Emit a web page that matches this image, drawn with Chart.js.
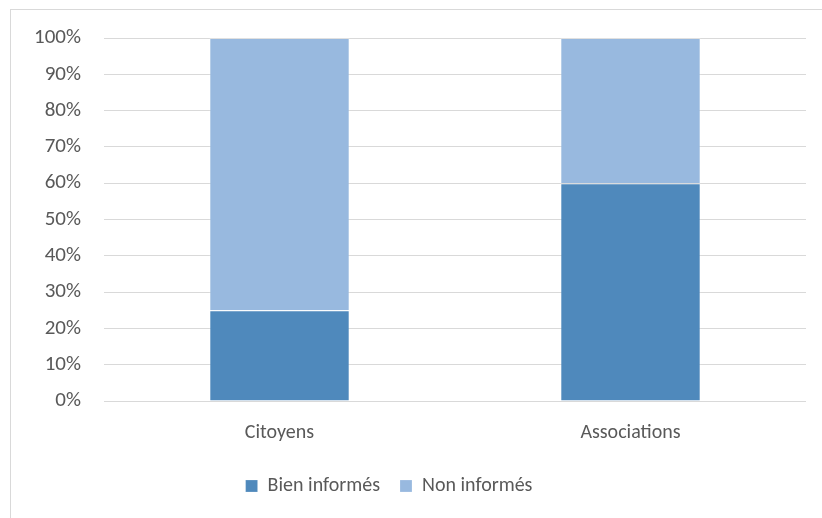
<!DOCTYPE html>
<html>
<head>
<meta charset="utf-8">
<script src="https://cdn.jsdelivr.net/npm/chart.js@4"></script>
<style>
  html, body { margin: 0; padding: 0; background: #fff; }
  body { width: 822px; height: 518px; position: relative; overflow: hidden; }
  .frame { position: absolute; left: 10px; top: 9px; width: 900px; height: 600px; border: 1px solid #d9d9d9; box-sizing: border-box; }
  .wrap { position: absolute; left: 0; top: 0; width: 822px; height: 518px; }
</style>
</head>
<body>
<div class="frame"></div>
<div class="wrap"><canvas id="chart"></canvas></div>
<script>
const categories = ["Citoyens", "Associations"];
const bienInformes = [25, 60];
const nonInformes = [75, 40];
const seriesNames = ["Bien informés", "Non informés"];

const fontFamily = "Carlito, Lato, 'Open Sans', sans-serif";
Chart.defaults.font.family = fontFamily;
Chart.defaults.color = "#595959";

// the legend sits a bit left of centre in the original
const legendShift = {
  id: "legendShift",
  afterLayout(chart) {
    chart.legend.left -= 14;
    chart.legend.right -= 14;
  },
};

const ctx = document.getElementById("chart");
new Chart(ctx, {
  type: "bar",
  data: {
    labels: categories,
    datasets: [
      {
        label: seriesNames[0],
        data: bienInformes,
        backgroundColor: "#4f89bc",
        borderColor: "rgba(255,255,255,0.2)",
        borderWidth: 1,
        categoryPercentage: 0.8,
        barPercentage: 0.5,
      },
      {
        label: seriesNames[1],
        data: nonInformes,
        backgroundColor: "#98b9df",
        borderColor: "rgba(255,255,255,0.2)",
        borderWidth: 1,
        categoryPercentage: 0.8,
        barPercentage: 0.5,
      },
    ],
  },
  options: {
    responsive: true,
    maintainAspectRatio: false,
    animation: false,
    layout: { padding: { left: 0, right: 16, top: 38, bottom: 12 } },
    plugins: {
      tooltip: { enabled: false },
      legend: {
        position: "bottom",
        labels: {
          boxWidth: 12,
          boxHeight: 12,
          padding: 20,
          font: { size: 20 },
          color: "#595959",
        },
      },
    },
    scales: {
      x: {
        stacked: true,
        grid: { display: false, drawTicks: false },
        border: { display: false },
        ticks: { padding: 20, font: { size: 20 }, color: "#595959" },
        afterFit: (scale) => { scale.height = 55; },
      },
      y: {
        stacked: true,
        min: 0,
        max: 100,
        grid: { color: "#d9d9d9", lineWidth: 1, drawTicks: false },
        border: { display: false },
        ticks: {
          stepSize: 10,
          padding: 23,
          font: { size: 21 },
          color: "#595959",
          callback: (v) => v + "%",
        },
        afterFit: (scale) => { scale.width = 104; },
      },
    },
  },
  plugins: [legendShift],
});
</script>
</body>
</html>
